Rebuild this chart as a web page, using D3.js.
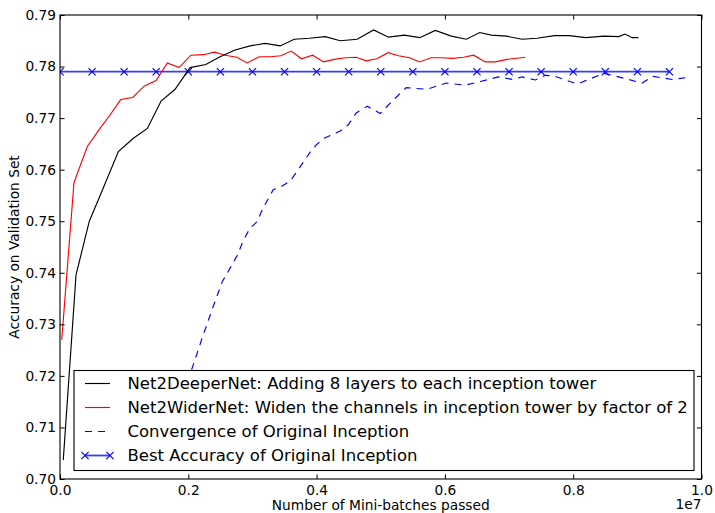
<!DOCTYPE html>
<html><head><meta charset="utf-8">
<script src="https://cdn.jsdelivr.net/npm/d3@7"></script>
<style>body{margin:0;background:#fff}svg{display:block;font-family:"DejaVu Sans",sans-serif}</style>
</head><body><svg id="c" width="715" height="513"></svg>
<script>
// x values in units of 1e7 mini-batches
const deeperX = [0.0051,0.025,0.0457,0.065,0.091,0.1144,0.1362,0.1576,0.1794,0.2028,0.2273,0.2496,0.2730,0.2964,0.3198,0.3432,0.3651,0.3885,0.4134,0.4368,0.4633,0.4888,0.5122,0.5367,0.5608,0.5850,0.6100,0.6334,0.6544,0.6724,0.6958,0.7203,0.7437,0.7707,0.7941,0.8198,0.8476,0.8710,0.8807,0.8919,0.9017];
const deeperY = [0.7037,0.7396,0.7500,0.7557,0.7635,0.7661,0.7680,0.7733,0.7756,0.7798,0.7804,0.7819,0.7832,0.7840,0.7845,0.7840,0.7853,0.7855,0.7858,0.7850,0.7853,0.7871,0.7857,0.7861,0.7856,0.7870,0.7859,0.7853,0.7866,0.7861,0.7859,0.7853,0.7855,0.7860,0.7860,0.7856,0.7859,0.7858,0.7863,0.7856,0.7856];
const widerX = [0.0027,0.0218,0.0426,0.0624,0.0780,0.0947,0.1134,0.1310,0.1498,0.1674,0.1856,0.2039,0.2236,0.2407,0.2574,0.2757,0.2917,0.3105,0.3276,0.3443,0.3604,0.3764,0.3939,0.4108,0.4275,0.4446,0.4618,0.4774,0.4941,0.5112,0.5278,0.5449,0.5605,0.5783,0.5955,0.6115,0.6292,0.6448,0.6630,0.6786,0.6969,0.7254];
const widerY = [0.7270,0.7575,0.7645,0.7680,0.7706,0.7736,0.7740,0.7762,0.7773,0.7807,0.7798,0.7822,0.7823,0.7828,0.7822,0.7818,0.7807,0.7819,0.7819,0.7821,0.7830,0.7815,0.7822,0.7809,0.7814,0.7817,0.7818,0.7811,0.7815,0.7827,0.7821,0.7817,0.7809,0.7817,0.7817,0.7816,0.7818,0.7822,0.7809,0.7809,0.7814,0.7818];
const origX = [0.1950,0.2055,0.2231,0.2387,0.2527,0.2652,0.2761,0.2855,0.2964,0.3073,0.3151,0.3245,0.3323,0.3432,0.3588,0.3697,0.3807,0.3900,0.3994,0.4119,0.4259,0.4368,0.4493,0.4618,0.4789,0.4992,0.5195,0.5398,0.5721,0.6022,0.6318,0.6552,0.6833,0.7051,0.7207,0.7410,0.7566,0.7691,0.8066,0.8476,0.8705,0.9075,0.9236,0.9543,0.9797];
const origY = [0.7163,0.7213,0.7279,0.7334,0.7382,0.7409,0.7433,0.7462,0.7487,0.7499,0.7522,0.7543,0.7561,0.7566,0.7578,0.7597,0.7617,0.7634,0.7648,0.7661,0.7669,0.7675,0.7687,0.7710,0.7723,0.7709,0.7735,0.7759,0.7756,0.7768,0.7764,0.7771,0.7780,0.7775,0.7780,0.7774,0.7783,0.7782,0.7766,0.7787,0.7780,0.7768,0.7781,0.7775,0.7779];
const bestX = [0,0.05,0.10,0.15,0.20,0.25,0.30,0.35,0.40,0.45,0.50,0.55,0.60,0.65,0.70,0.75,0.80,0.85,0.90,0.95];
const bestValue = 0.7790;
const xTicks = [0,0.2,0.4,0.6,0.8,1.0];
const yTicks = [0.70,0.71,0.72,0.73,0.74,0.75,0.76,0.77,0.78,0.79];
const legendLabels = ["Net2DeeperNet: Adding 8 layers to each inception tower","Net2WiderNet: Widen the channels in inception tower by factor of 2","Convergence of Original Inception","Best Accuracy of Original Inception"];

const svg = d3.select("#c");
const L=60, R=701.5, T=15, B=479;
const x = d3.scaleLinear().domain([0,1]).range([L,R]);
const y = d3.scaleLinear().domain([0.70,0.79]).range([B,T]);

svg.append("defs").append("clipPath").attr("id","clip").append("rect")
  .attr("x",L).attr("y",T).attr("width",R-L).attr("height",B-T);

const line = d3.line().x(d=>x(d[0])).y(d=>y(d[1]));
const g = svg.append("g").attr("clip-path","url(#clip)");
const zip=(a,b)=>a.map((v,i)=>[v,b[i]]);

g.append("path").datum(zip(origX,origY)).attr("d",line).attr("fill","none")
  .attr("stroke","#0000ff").attr("stroke-width",1.15).attr("stroke-dasharray","7,6");
const bestPts = bestX.map(v=>[v,bestValue]);
g.append("path").datum(bestPts).attr("d",line).attr("fill","none")
  .attr("stroke","#3b3bff").attr("stroke-width",1.8);
const xm = d3.symbol().type(d3.symbolX).size(36);
g.selectAll("path.mk").data(bestPts).enter().append("path").attr("class","mk")
  .attr("transform",d=>`translate(${x(d[0])},${y(d[1])})`)
  .attr("d",d=>{const s=3.6;return `M${-s},${-s}L${s},${s}M${-s},${s}L${s},${-s}`;})
  .attr("stroke","#0000ff").attr("stroke-width",1.15).attr("fill","none");
g.append("path").datum(zip(widerX,widerY)).attr("d",line).attr("fill","none")
  .attr("stroke","#ff0000").attr("stroke-width",1.15);
g.append("path").datum(zip(deeperX,deeperY)).attr("d",line).attr("fill","none")
  .attr("stroke","#000000").attr("stroke-width",1.15);

// axes frame
svg.append("rect").attr("x",L).attr("y",T).attr("width",R-L).attr("height",B-T)
  .attr("fill","none").attr("stroke","#000").attr("stroke-width",1.1);

const tl=4.6;
const axB = svg.append("g").attr("transform",`translate(0,${B})`)
  .call(d3.axisBottom(x).tickValues(xTicks).tickFormat(d3.format(".1f")).tickSizeInner(-tl).tickSizeOuter(0).tickPadding(6));
const axT = svg.append("g").attr("transform",`translate(0,${T})`)
  .call(d3.axisTop(x).tickValues(xTicks).tickFormat("").tickSizeInner(-tl).tickSizeOuter(0));
const axL = svg.append("g").attr("transform",`translate(${L},0)`)
  .call(d3.axisLeft(y).tickValues(yTicks).tickFormat(d3.format(".2f")).tickSizeInner(-tl).tickSizeOuter(0).tickPadding(4));
const axR = svg.append("g").attr("transform",`translate(${R},0)`)
  .call(d3.axisRight(y).tickValues(yTicks).tickFormat("").tickSizeInner(-tl).tickSizeOuter(0));
[axB,axT,axL,axR].forEach(a=>{
  a.select(".domain").remove();
  a.selectAll("line").attr("stroke","#000").attr("stroke-width",1);
  a.selectAll("text").attr("font-family","DejaVu Sans").attr("font-size",13.75).attr("fill","#000");
});
axB.selectAll("text").attr("dy","0.71em");

svg.append("text").attr("x",R).attr("y",509).attr("text-anchor","end")
  .attr("font-size",13.75).text("1e7");
svg.append("text").attr("x",(L+R)/2).attr("y",510).attr("text-anchor","middle")
  .attr("font-size",13.75).text("Number of Mini-batches passed");
svg.append("text").attr("transform",`translate(19,${(T+B)/2}) rotate(-90)`).attr("text-anchor","middle")
  .attr("font-size",13.75).text("Accuracy on Validation Set");

// legend
const lg = svg.append("g");
lg.append("rect").attr("x",74).attr("y",370.5).attr("width",620).attr("height",100)
  .attr("fill","#fff").attr("stroke","#000").attr("stroke-width",1.1);
const styles=[{c:"#000",dash:null},{c:"#ff0000",dash:null},{c:"#0000ff",dash:"7,6"},{c:"#3b3bff",dash:null,mk:true}];
legendLabels.forEach((t,i)=>{
  const cy = 383.5 + i*24;
  const ln = lg.append("line").attr("x1",85).attr("x2",110).attr("y1",cy).attr("y2",cy)
    .attr("stroke",styles[i].c).attr("stroke-width",styles[i].mk?1.8:1.15);
  if(styles[i].dash) ln.attr("stroke-dasharray",styles[i].dash);
  if(styles[i].mk){
    [85,110].forEach(px=>{const s=3.6;
      lg.append("path").attr("d",`M${px-s},${cy-s}L${px+s},${cy+s}M${px-s},${cy+s}L${px+s},${cy-s}`)
        .attr("stroke","#0000ff").attr("stroke-width",1.15);});
  }
  lg.append("text").attr("x",127.5).attr("y",cy).attr("dy","0.36em").attr("font-size",16.5).text(t);
});
</script></body></html>
